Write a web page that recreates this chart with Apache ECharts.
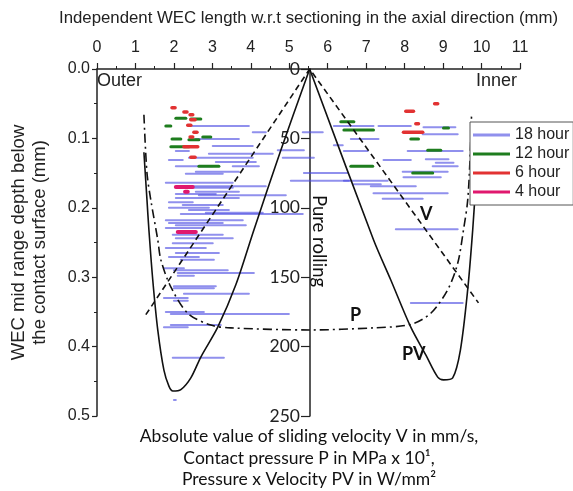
<!DOCTYPE html>
<html lang="en">
<head>
  <meta charset="UTF-8">
  <title>WEC length and depth vs sliding velocity / pressure</title>
  <script src="https://cdn.jsdelivr.net/npm/echarts@6/dist/echarts.min.js"></script>
  <style>
    html, body { margin: 0; padding: 0; background: #fff; }
    #chart { width: 573px; height: 491px; }
  </style>
</head>
<body>
<div id="chart"></div>
<script>
  // each WEC: [axial start (mm), axial end (mm), mid range depth (mm)]
  let hour18 = [
    [2.39, 3.95, 0.082], [4.05, 4.39, 0.091], [2.57, 3.69, 0.101], [3.01, 4.05, 0.111],
    [2.05, 2.39, 0.118], [2.91, 4.57, 0.122], [1.87, 2.23, 0.131], [2.39, 4.05, 0.128],
    [3.09, 4.13, 0.134], [2.05, 3.01, 0.140], [3.53, 4.21, 0.140], [2.57, 3.69, 0.148],
    [2.31, 3.27, 0.151], [1.79, 3.53, 0.164], [2.49, 4.39, 0.169], [2.39, 3.53, 0.171],
    [2.57, 3.69, 0.177], [2.05, 3.09, 0.180], [2.65, 4.91, 0.182], [2.05, 3.69, 0.186],
    [1.87, 2.49, 0.192], [2.23, 3.27, 0.196], [1.87, 2.91, 0.200], [2.39, 3.43, 0.203],
    [2.83, 4.31, 0.207], [2.18, 5.35, 0.209], [1.79, 3.79, 0.218], [1.87, 3.27, 0.222],
    [2.05, 3.87, 0.225], [1.79, 2.75, 0.229], [1.97, 3.27, 0.239], [2.05, 3.53, 0.244],
    [1.97, 3.01, 0.251], [1.79, 2.83, 0.258], [2.05, 3.17, 0.265], [1.87, 2.65, 0.271],
    [2.18, 3.04, 0.275], [1.74, 2.26, 0.287], [2.00, 3.40, 0.290], [2.10, 4.08, 0.294],
    [2.10, 2.52, 0.298], [2.00, 3.09, 0.313], [2.00, 3.04, 0.316], [2.26, 3.95, 0.324],
    [1.74, 2.36, 0.330], [2.00, 2.36, 0.334], [1.79, 2.78, 0.350], [1.92, 4.99, 0.353],
    [1.92, 3.22, 0.369], [1.74, 2.36, 0.372], [1.97, 3.30, 0.416], [2.00, 2.05, 0.477],
    [5.35, 5.87, 0.091], [4.70, 5.38, 0.117], [4.83, 5.64, 0.128], [5.38, 6.52, 0.150],
    [5.04, 6.55, 0.161], [6.42, 7.56, 0.161], [6.16, 7.19, 0.082], [7.32, 8.16, 0.082],
    [8.49, 9.32, 0.084], [6.60, 7.32, 0.101], [8.47, 9.38, 0.094], [6.16, 6.39, 0.110],
    [6.42, 7.04, 0.118], [8.08, 9.51, 0.118], [8.55, 9.14, 0.130], [8.81, 9.27, 0.135],
    [8.73, 9.38, 0.140], [7.45, 8.16, 0.131], [7.95, 9.12, 0.148], [7.97, 8.94, 0.156],
    [7.12, 8.29, 0.169], [6.68, 7.38, 0.166], [7.19, 9.12, 0.179], [7.43, 8.47, 0.187],
    [7.77, 9.38, 0.231], [8.16, 9.51, 0.337]
  ];
  let hour12 = [
    [2.05, 2.31, 0.071], [2.44, 2.70, 0.072], [1.79, 1.92, 0.082], [1.95, 2.18, 0.101],
    [2.39, 2.65, 0.102], [2.75, 2.96, 0.098], [1.92, 2.39, 0.112], [2.65, 3.17, 0.140],
    [6.34, 6.68, 0.076], [6.42, 7.19, 0.088], [8.16, 8.36, 0.101], [8.60, 8.94, 0.117],
    [6.60, 7.17, 0.140], [8.21, 8.73, 0.150], [9.01, 9.14, 0.085]
  ];
  let hour6 = [
    [1.95, 2.03, 0.056], [2.26, 2.34, 0.062], [2.42, 2.49, 0.066], [2.44, 2.55, 0.073],
    [2.36, 2.44, 0.081], [2.52, 2.60, 0.091], [2.42, 2.49, 0.098], [2.26, 2.62, 0.112],
    [2.44, 2.55, 0.127], [8.03, 8.23, 0.061], [8.78, 8.86, 0.050], [8.29, 8.36, 0.079],
    [7.97, 8.47, 0.091]
  ];
  let hour4 = [
    [2.05, 2.49, 0.170], [2.29, 2.36, 0.177], [2.10, 2.57, 0.235]
  ];

  // contact curves, read in the same axial (mm) / depth (mm) frame
  let vCurve = [[1.27, 0.354], [5.53, 0.0], [9.92, 0.337]];
  let pCurve = [
    [1.22, 0.066], [1.30, 0.150], [1.40, 0.189], [1.58, 0.246], [1.66, 0.275],
    [1.92, 0.314], [2.36, 0.352], [2.96, 0.369], [3.48, 0.373], [5.53, 0.376],
    [7.19, 0.373], [8.16, 0.368], [8.68, 0.352], [9.12, 0.318], [9.38, 0.280],
    [9.53, 0.232], [9.64, 0.189], [9.71, 0.117], [9.74, 0.066]
  ];
  let pvLeft = [
    [1.22, 0.120], [1.30, 0.189], [1.35, 0.232], [1.45, 0.304], [1.58, 0.376],
    [1.74, 0.434], [1.87, 0.457], [1.97, 0.464], [2.18, 0.462], [2.44, 0.445],
    [2.70, 0.415], [3.14, 0.372], [3.61, 0.311], [4.08, 0.232], [4.78, 0.117], [5.53, 0.0]
  ];
  let pvRight = [
    [5.53, 0.0], [7.19, 0.246], [7.64, 0.304], [8.16, 0.372], [8.55, 0.412],
    [8.86, 0.444], [9.01, 0.448], [9.25, 0.445], [9.45, 0.405], [9.64, 0.318],
    [9.77, 0.232], [9.84, 0.174], [9.87, 0.153]
  ];

  let legendNames = ['18 hour', '12 hour', '6 hour', '4 hour'];

  function segments(name, data, color, width) {
    return {
      name: name,
      type: 'custom',
      data: data,
      itemStyle: {color: color},
      encode: {x: [0, 1], y: 2},
      renderItem: function (params, api) {
        let a = api.coord([api.value(0), api.value(2)]);
        let b = api.coord([api.value(1), api.value(2)]);
        return {
          type: 'line',
          shape: {x1: a[0], y1: a[1], x2: b[0], y2: b[1]},
          style: {stroke: color, lineWidth: width, lineCap: 'round'}
        };
      },
      z: 3
    };
  }

  function curve(data, dash, smooth) {
    return {
      type: 'line',
      data: data,
      showSymbol: false,
      smooth: smooth,
      silent: true,
      lineStyle: {color: '#111', width: 1.6, type: dash},
      z: 4
    };
  }

  let axisColor = '#222';
  let chart = echarts.init(document.getElementById('chart'));
  chart.setOption({
    animation: false,
    backgroundColor: '#fff',
    grid: {left: 96, top: 69, width: 424, height: 347},
    legend: {
      data: legendNames,
      orient: 'vertical',
      left: 470,
      top: 122,
      icon: 'rect',
      itemWidth: 37,
      itemHeight: 3,
      itemGap: 3,
      padding: [5, 4, 5, 3],
      backgroundColor: '#fff',
      borderColor: '#555',
      borderWidth: 1,
      textStyle: {fontFamily: 'Arial', fontSize: 16, color: '#222'},
      z: 10
    },
    xAxis: {
      type: 'value',
      position: 'top',
      min: 0,
      max: 11,
      interval: 1,
      name: 'Independent WEC length w.r.t sectioning in the axial direction (mm)',
      nameLocation: 'middle',
      nameGap: 42,
      nameTextStyle: {fontFamily: 'Arial', fontSize: 16.8, color: axisColor},
      axisLine: {lineStyle: {color: axisColor, width: 1.5}},
      axisTick: {length: 6, lineStyle: {color: axisColor, width: 1.2}},
      minorTick: {show: true, splitNumber: 2, length: 3, lineStyle: {color: axisColor}},
      axisLabel: {fontFamily: 'Arial', fontSize: 16, color: axisColor, margin: 13},
      splitLine: {show: false}
    },
    yAxis: [{
      type: 'value',
      position: 'left',
      inverse: true,
      min: 0,
      max: 0.5,
      interval: 0.1,
      name: 'WEC mid range depth below\nthe contact surface (mm)',
      nameLocation: 'middle',
      nameGap: 47,
      nameTextStyle: {fontFamily: 'Arial', fontSize: 18.5, color: axisColor, lineHeight: 21},
      axisLine: {show: true, lineStyle: {color: axisColor, width: 1.5}},
      axisTick: {show: true, length: 5, lineStyle: {color: axisColor, width: 1.2}},
      minorTick: {show: true, splitNumber: 2, length: 3, lineStyle: {color: axisColor}},
      axisLabel: {
        fontFamily: 'Arial', fontSize: 16, color: axisColor, margin: 7,
        formatter: function (v) { return v.toFixed(1); }
      },
      splitLine: {show: false}
    }, {
      type: 'value',
      position: 'left',
      offset: -213,
      inverse: true,
      min: 0,
      max: 250,
      interval: 50,
      axisLine: {show: true, lineStyle: {color: axisColor, width: 1.5}},
      axisTick: {show: true, length: 9, lineStyle: {color: axisColor, width: 1.2}},
      axisLabel: {fontFamily: 'Lato', fontSize: 17.5, color: axisColor, margin: 10},
      splitLine: {show: false}
    }],
    graphic: [
      {type: 'text', left: 97, top: 72, style: {text: 'Outer', font: '18px Arial', fill: axisColor}},
      {type: 'text', left: 476, top: 72, style: {text: 'Inner', font: '18px Arial', fill: axisColor}},
      {type: 'text', left: 420, top: 205, style: {text: 'V', font: 'bold 18px Lato', fill: '#111'}},
      {type: 'text', left: 350, top: 306, style: {text: 'P', font: 'bold 18px Lato', fill: '#111'}},
      {type: 'text', left: 402, top: 345, style: {text: 'PV', font: 'bold 18px Lato', fill: '#111'}},
      {
        type: 'text', x: 319, y: 241, rotation: -Math.PI / 2,
        style: {text: 'Pure rolling', font: '18.5px Lato', fill: '#111', textAlign: 'center', textVerticalAlign: 'middle'}
      },
      {
        type: 'text', x: 309, y: 426,
        style: {
          text: 'Absolute value of sliding velocity V in mm/s,\nContact pressure P in MPa x 10\u00b9,\nPressure x Velocity PV in W/mm\u00b2',
          font: '17.5px Lato', fill: '#111', textAlign: 'center', lineHeight: 21.5
        }
      }
    ],
    series: [
      curve(vCurve, [6, 4], false),
      curve(pCurve, [9, 4, 2, 4], 0.3),
      curve(pvLeft, 'solid', 0.3),
      curve(pvRight, 'solid', 0.3),
      segments('18 hour', hour18, 'rgba(70,70,225,0.6)', 2),
      segments('12 hour', hour12, '#1e7d1e', 3),
      segments('6 hour', hour6, '#e23232', 3.5),
      segments('4 hour', hour4, '#e0186e', 4)
    ]
  });
</script>
</body>
</html>
